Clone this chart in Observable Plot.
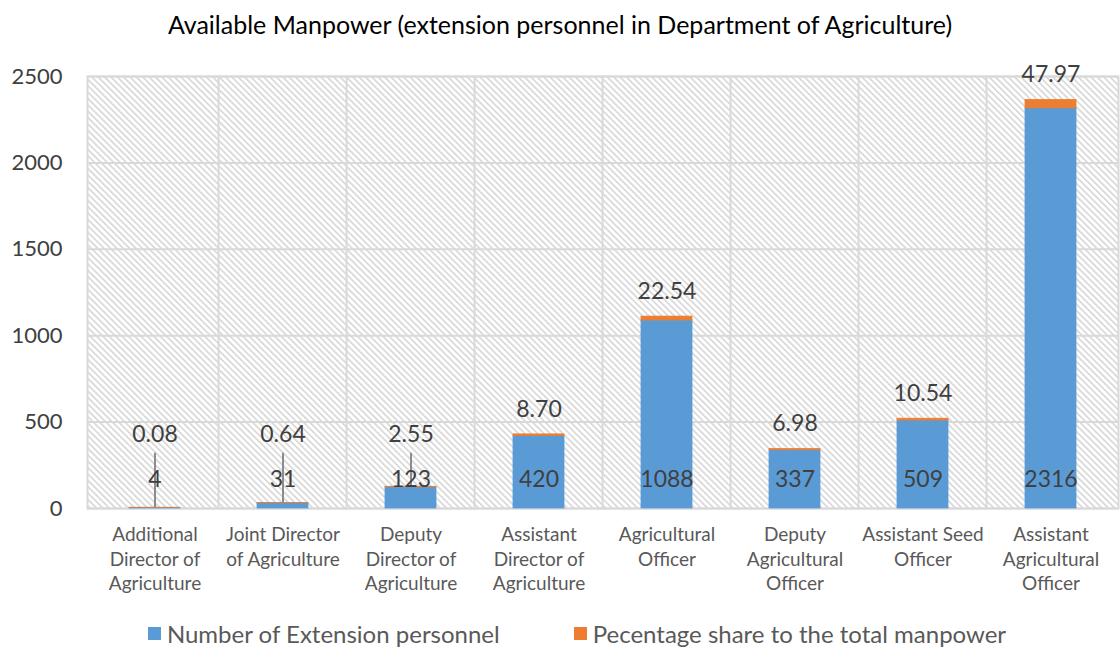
<!DOCTYPE html>
<html>
<head>
<meta charset="utf-8">
<script src="https://cdn.jsdelivr.net/npm/d3@7"></script>
<script src="https://cdn.jsdelivr.net/npm/@observablehq/plot@0.6"></script>
<style>
  body { margin: 0; background: #fff; font-family: Lato, "Open Sans", sans-serif; }
  #wrap { width: 1120px; height: 650px; position: relative; }
  #title { height: 50px; line-height: 48px; text-align: center; font-size: 25px; color: #000; }
  #legend { position: absolute; top: 619px; left: 17px; width: 1120px; display: flex; justify-content: center; gap: 74px; font-size: 24px; color: #595959; }
  .li { display: flex; align-items: center; gap: 6px; }
  .sw { width: 13px; height: 13px; display: inline-block; }
</style>
</head>
<body>
<div id="wrap">
  <div id="title">Available Manpower (extension personnel in Department of Agriculture)</div>
  <div id="chart"></div>
  <div id="legend"></div>
</div>
<script>
const categories = [
  "Additional Director of Agriculture",
  "Joint Director of Agriculture",
  "Deputy Director of Agriculture",
  "Assistant Director of Agriculture",
  "Agricultural Officer",
  "Deputy Agricultural Officer",
  "Assistant Seed Officer",
  "Assistant Agricultural Officer"
];
const tickLabels = [
  "Additional\nDirector of\nAgriculture",
  "Joint Director\nof Agriculture",
  "Deputy\nDirector of\nAgriculture",
  "Assistant\nDirector of\nAgriculture",
  "Agricultural\nOfficer",
  "Deputy\nAgricultural\nOfficer",
  "Assistant Seed\nOfficer",
  "Assistant\nAgricultural\nOfficer"
];
const personnel = [4, 31, 123, 420, 1088, 337, 509, 2316];
const share = [0.08, 0.64, 2.55, 8.70, 22.54, 6.98, 10.54, 47.97];
const seriesNames = ["Number of Extension personnel", "Pecentage share to the total manpower"];
const seriesColors = ["#5b9bd5", "#ed7d31"];
const yTicks = [0, 500, 1000, 1500, 2000, 2500];

const rows = categories.map((c, i) => ({
  cat: c, label: tickLabels[i], personnel: personnel[i], share: share[i], total: personnel[i] + share[i]
}));
const long = [];
rows.forEach(r => {
  long.push({cat: r.cat, series: seriesNames[0], value: r.personnel});
  long.push({cat: r.cat, series: seriesNames[1], value: r.share});
});

const width = 1120, marginLeft = 87, marginRight = 2;
const step = (width - marginLeft - marginRight) / categories.length;
const lowLevel = 430; // label level for short bars (leader-line labels)
const small = rows.filter(r => r.personnel < 200);
const big = rows.filter(r => r.personnel >= 200);

const chart = Plot.plot({
  width, height: 560,
  marginLeft, marginRight, marginTop: 26, marginBottom: 102,
  style: {fontFamily: "Lato, 'Open Sans', sans-serif", background: "transparent"},
  x: {domain: categories, paddingInner: 0.6, paddingOuter: 0.3, label: null},
  y: {domain: [0, 2500], label: null},
  color: {domain: seriesNames, range: seriesColors},
  marks: [
    Plot.frame({fill: "url(#hatch)", stroke: "#d9d9d9", strokeWidth: 2}),
    Plot.gridY(yTicks, {stroke: "#d9d9d9", strokeWidth: 2, strokeOpacity: 1}),
    Plot.ruleX(categories.slice(1), {dx: -step / 2, stroke: "#d9d9d9", strokeWidth: 2}),
    Plot.axisY(yTicks, {tickSize: 0, tickPadding: 25, fontSize: 22, fill: "#404040", label: null, tickFormat: d => String(d)}),
    Plot.axisX({tickSize: 0, tickPadding: 15, fontSize: 19, fill: "#595959", lineHeight: 1.3,
      tickFormat: d => tickLabels[categories.indexOf(d)], label: null}),
    Plot.barY(long, {x: "cat", y: "value", fill: "series", stroke: "series", strokeWidth: 0.8, order: seriesNames}),
    Plot.ruleX(small, {x: "cat", y1: () => lowLevel, y2: "total", insetTop: 19, stroke: "#8c8c8c", strokeWidth: 2}),
    Plot.text(rows, {x: "cat", y: () => 0, dy: -29, text: d => String(d.personnel), fontSize: 23, fill: "#404040", lineAnchor: "middle"}),
    Plot.text(big, {x: "cat", y: "total", dy: -25, text: d => d.share.toFixed(2), fontSize: 23, fill: "#404040", lineAnchor: "middle"}),
    Plot.text(small, {x: "cat", y: () => lowLevel, text: d => d.share.toFixed(2), fontSize: 23, fill: "#404040", lineAnchor: "middle"})
  ]
});

// hatch pattern definition
const ns = "http://www.w3.org/2000/svg";
const defs = document.createElementNS(ns, "defs");
defs.innerHTML = `<pattern id="hatch" patternUnits="userSpaceOnUse" width="4.5" height="4.5" patternTransform="rotate(-45)">
  <rect width="4.5" height="4.5" fill="#ffffff"/>
  <rect width="1.6" height="4.5" fill="#d6d6d6"/>
</pattern>`;
chart.insertBefore(defs, chart.firstChild);
document.getElementById("chart").appendChild(chart);

const legend = document.getElementById("legend");
seriesNames.forEach((n, i) => {
  const el = document.createElement("div");
  el.className = "li";
  el.innerHTML = `<span class="sw" style="background:${seriesColors[i]}"></span><span>${n}</span>`;
  legend.appendChild(el);
});
</script>
</body>
</html>
